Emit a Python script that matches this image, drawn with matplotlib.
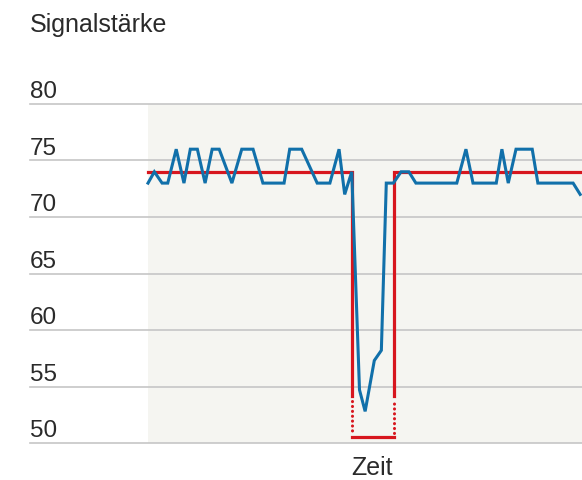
import numpy as np
import matplotlib
matplotlib.use("Agg")
import matplotlib.pyplot as plt
import matplotlib.transforms as mtransforms

plt.rcParams['font.family'] = ['Liberation Sans', 'DejaVu Sans']

# signal strength over time (arbitrary time units)
zeit = [0, 0.9, 2, 2.8, 4, 5.1, 6, 7, 8.1, 9.1, 10.1, 11.9, 13.3, 14.9, 16.3,
        19.3, 20.1, 21.8, 24, 25.8, 27.1, 27.9, 28.9, 30, 30.8, 32.1, 33.1,
        33.8, 34.8, 35.9, 37, 38, 43.8, 45.1, 46.1, 49.4, 50.2, 51.1, 52.2,
        54.5, 55.3, 60.3, 61.3]
signal = [73, 74, 73, 73, 76, 73, 76, 76, 73, 76, 76, 73, 76, 76, 73,
          73, 76, 76, 73, 73, 76, 72, 74, 54.7, 52.8, 57.3, 58.2,
          73, 73, 74, 74, 73, 73, 76, 73, 73, 76, 73, 76,
          76, 73, 73, 72]

# detected level (red step)
stufe_t = [0, 28.9, 34.9, 61.6]
stufe_hoch = 74
stufe_tief = 50.5
bruch = 54.2

yticks = [50, 55, 60, 65, 70, 75, 80]

blau = '#1170aa'
rot = '#d7161e'
grau = '#c6c6c6'
text_farbe = '#2a2a2a'

W, H = 582, 480
fig = plt.figure(figsize=(W / 100, H / 100), dpi=100)
ax = fig.add_axes([30 / W, (H - 443) / H, (W - 30) / W, (443 - 104) / H])

# x range: shading starts at t=0 (pixel 148), 7.05 px per unit
px = 7.05
ax.set_xlim((30 - 148) / px, (W - 148) / px)
ax.set_ylim(50, 80)

ax.axvspan(0, stufe_t[-1] + 5, color='#f5f5f1', zorder=0, lw=0)
for v in yticks:
    ax.axhline(v, color=grau, lw=1.2, zorder=1, clip_on=False)

trans = mtransforms.blended_transform_factory(ax.transAxes, ax.transData)
for v in yticks:
    ax.annotate(str(v), (0, v), xycoords=trans, xytext=(0, 4),
                textcoords='offset points', ha='left', va='baseline',
                fontsize=17.5, color=text_farbe)

# red step, with broken (dotted) part
t0, t1, t2, t3 = stufe_t
punkt = (0, (0.05, 1.55))
ax.plot([t0, t1, t1], [stufe_hoch, stufe_hoch, bruch], color=rot, lw=2.3,
        zorder=2, solid_joinstyle='miter')
ax.plot([t1, t1], [bruch - 0.5, stufe_tief + 0.4], color=rot, lw=2.2,
        ls=punkt, dash_capstyle='round', zorder=2)
ax.plot([t1, t2], [stufe_tief, stufe_tief], color=rot, lw=2.3, zorder=2)
ax.plot([t2, t2], [stufe_tief + 0.4, bruch - 0.5], color=rot, lw=2.2,
        ls=punkt, dash_capstyle='round', zorder=2)
ax.plot([t2, t2, t3], [bruch, stufe_hoch, stufe_hoch], color=rot, lw=2.3,
        zorder=2, solid_joinstyle='miter')

ax.plot(zeit, signal, color=blau, lw=2.2, zorder=3, solid_joinstyle='miter')

for s in ax.spines.values():
    s.set_visible(False)
ax.set_xticks([])
ax.set_yticks([])
ax.patch.set_alpha(0)

fig.text(30 / W, 1 - 32 / H, 'Signalstärke', fontsize=18, color=text_farbe,
         ha='left', va='baseline')
fig.text(372 / W, 5 / H, 'Zeit', fontsize=18, color=text_farbe,
         ha='center', va='baseline')

fig.savefig('out.png', dpi=100)
